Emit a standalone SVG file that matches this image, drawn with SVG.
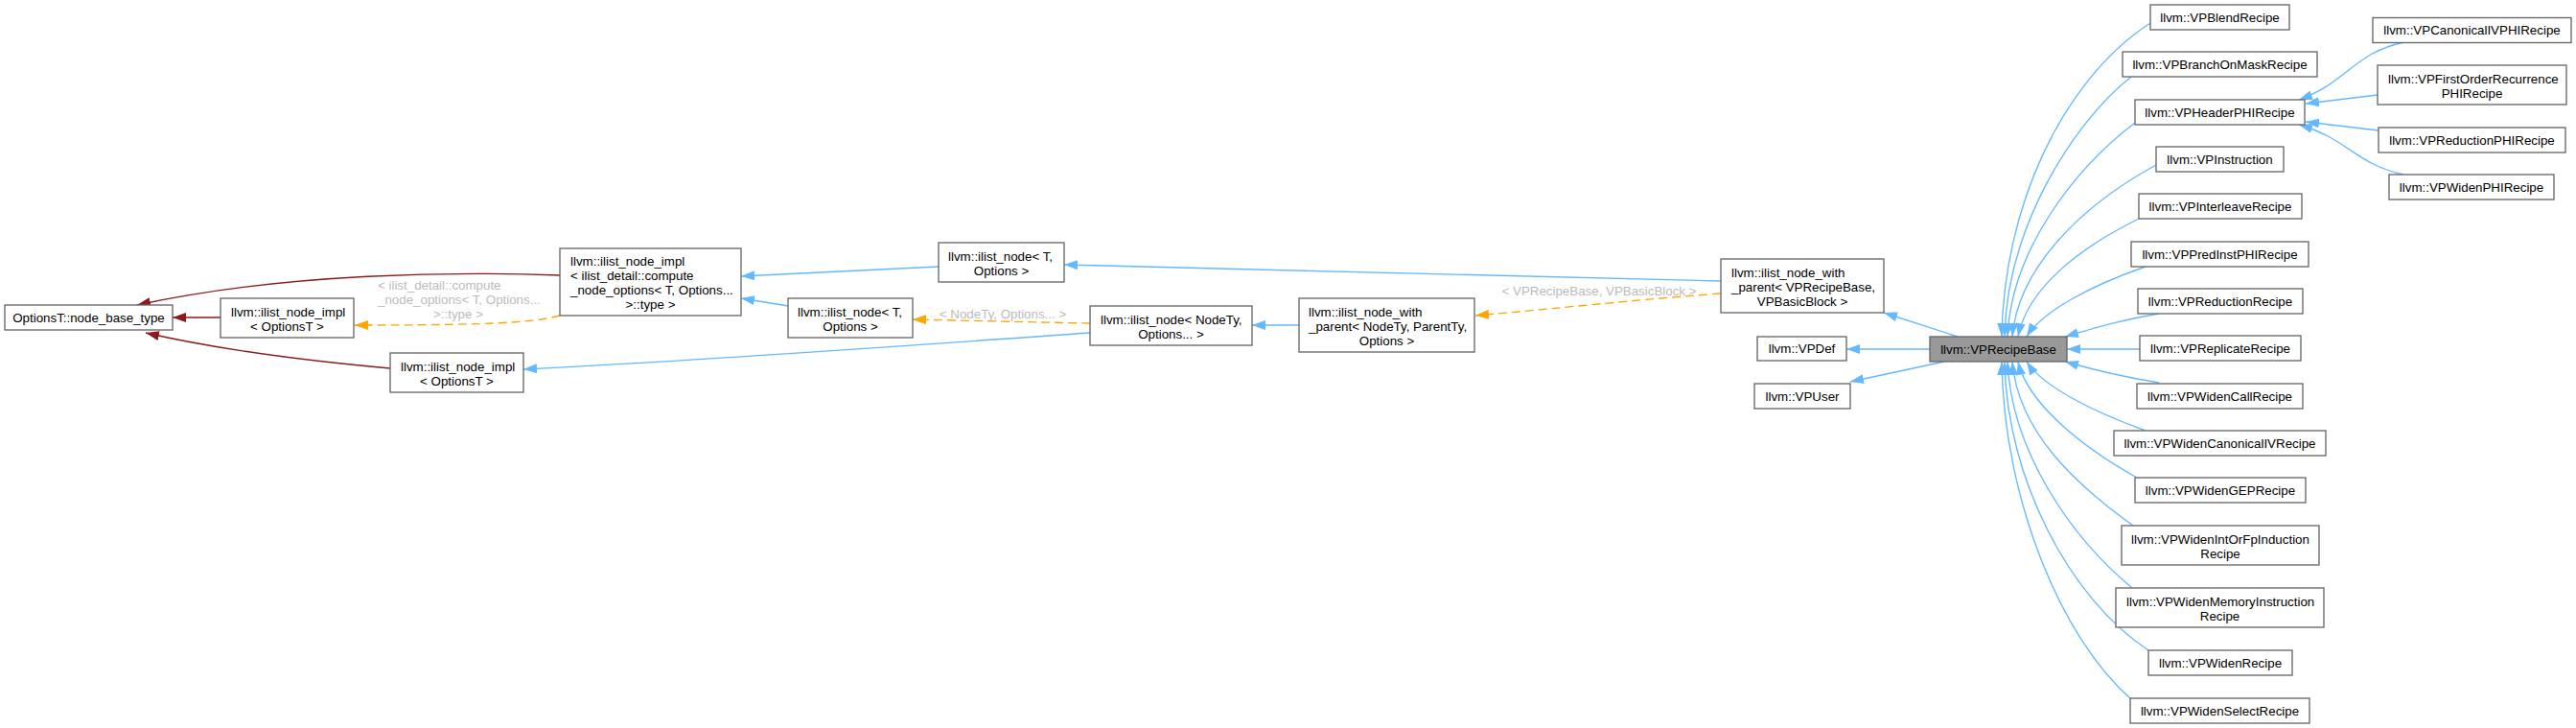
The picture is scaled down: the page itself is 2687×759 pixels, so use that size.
<svg xmlns="http://www.w3.org/2000/svg" width="2687" height="759" viewBox="0 0 2687 759">
<style>
text{font-family:"Liberation Sans",Arial,Helvetica,sans-serif;font-size:13.33px;fill:#000}
.m{text-anchor:middle}
.lbl{fill:#bbbbbb}
.n rect{fill:#fff;stroke:#666;stroke-width:1.33}
.n.cur rect{fill:#999}
.e path{fill:none;stroke-width:1.33}
.b{stroke:#63b8ff;marker-end:url(#ab)}
.r{stroke:#8b1a1a;marker-end:url(#ar)}
.o{stroke:#ffa500;stroke-dasharray:9,5;marker-end:url(#ao)}
</style>
<defs>
<marker id="ab" viewBox="0 0 14 10" refX="14" refY="5" markerWidth="14" markerHeight="10" orient="auto" markerUnits="userSpaceOnUse"><path d="M14,5L0,0L0,10z" fill="#63b8ff"/></marker>
<marker id="ar" viewBox="0 0 14 10" refX="14" refY="5" markerWidth="14" markerHeight="10" orient="auto" markerUnits="userSpaceOnUse"><path d="M14,5L0,0L0,10z" fill="#8b1a1a"/></marker>
<marker id="ao" viewBox="0 0 14 10" refX="14" refY="5" markerWidth="14" markerHeight="10" orient="auto" markerUnits="userSpaceOnUse"><path d="M14,5L0,0L0,10z" fill="#ffa500"/></marker>
</defs>
<rect width="2687" height="759" fill="#fff"/>
<g id="edges" class="e">
<path class="r" d="M230,331L180,331"/>
<path class="r" d="M584,287C480,283 300,284 143,318"/>
<path class="r" d="M407,384C330,377 230,365 152,347"/>
<path class="o" d="M584,329C555,337 500,339 370,339"/>
<path class="b" d="M979,278L773,288"/>
<path class="b" d="M822,319L773,311"/>
<path class="b" d="M1137,347C950,360 750,375 546,385"/>
<path class="o" d="M1137,337C1080,336 1000,334 952,333"/>
<path class="b" d="M1355,339L1306,339"/>
<path class="b" d="M1795,293C1500,284 1300,279 1110,276"/>
<path class="o" d="M1795,306C1700,313 1620,322 1539,329"/>
<path class="b" d="M2042,351L1965,326"/>
<path class="b" d="M2013,364L1926,364"/>
<path class="b" d="M2028,377L1930,398"/>
<path class="b" d="M2243,24C2148,86 2090,220 2088,351"/>
<path class="b" d="M2223,80C2160,130 2093,240 2091,351"/>
<path class="b" d="M2227,128C2165,175 2098,260 2094,351"/>
<path class="b" d="M2249,172C2170,215 2105,280 2099,351"/>
<path class="b" d="M2231,228C2170,258 2115,300 2105,351"/>
<path class="b" d="M2238,278C2180,298 2130,325 2114,351"/>
<path class="b" d="M2252,327C2215,333 2185,342 2154,351"/>
<path class="b" d="M2232,364L2156,364"/>
<path class="b" d="M2252,399C2215,393 2185,386 2154,377"/>
<path class="b" d="M2238,449C2180,428 2130,402 2114,377"/>
<path class="b" d="M2229,498C2170,465 2115,420 2105,377"/>
<path class="b" d="M2225,548C2165,505 2105,450 2099,377"/>
<path class="b" d="M2224,613C2160,560 2098,470 2094,377"/>
<path class="b" d="M2241,678C2160,625 2093,500 2091,377"/>
<path class="b" d="M2222,728C2150,665 2090,520 2088,377"/>
<path class="b" d="M2508,44C2455,55 2450,85 2398,104"/>
<path class="b" d="M2480,99L2405,108"/>
<path class="b" d="M2481,136L2405,127"/>
<path class="b" d="M2507,182C2455,170 2450,145 2398,130"/>
<text class="lbl" x="394" y="301.7">&lt; ilist_detail::compute</text>
<text class="lbl" x="394" y="316.7">_node_options&lt; T, Options...</text>
<text class="lbl m" x="478" y="331.7">&gt;::type &gt;</text>
<text class="lbl m" x="1046" y="331.7">&lt; NodeTy, Options... &gt;</text>
<text class="lbl m" x="1668" y="307.7">&lt; VPRecipeBase, VPBasicBlock &gt;</text>
</g>
<g id="n_optbase" class="n"><rect x="5" y="318" width="175" height="26"/><text class="m" x="92.5" y="335.7">OptionsT::node_base_type</text></g>
<g id="n_implA" class="n"><rect x="230" y="311" width="139" height="41"/><text x="241" y="329.7">llvm::ilist_node_impl</text><text class="m" x="299.5" y="344.7">&lt; OptionsT &gt;</text></g>
<g id="n_implB" class="n"><rect x="407" y="368" width="139" height="41"/><text x="418" y="386.7">llvm::ilist_node_impl</text><text class="m" x="476.5" y="401.7">&lt; OptionsT &gt;</text></g>
<g id="n_implC" class="n"><rect x="584" y="259" width="189" height="70"/><text x="595" y="277.2">llvm::ilist_node_impl</text><text x="595" y="292.2">&lt; ilist_detail::compute</text><text x="595" y="307.2">_node_options&lt; T, Options...</text><text class="m" x="678.5" y="322.2">&gt;::type &gt;</text></g>
<g id="n_nodeTU" class="n"><rect x="979" y="253" width="131" height="41"/><text x="989" y="271.7">llvm::ilist_node&lt; T,</text><text class="m" x="1044.5" y="286.7">Options &gt;</text></g>
<g id="n_nodeTL" class="n"><rect x="822" y="311" width="130" height="41"/><text x="832" y="329.7">llvm::ilist_node&lt; T,</text><text class="m" x="887" y="344.7">Options &gt;</text></g>
<g id="n_nodeNT" class="n"><rect x="1137" y="319" width="169" height="41"/><text x="1148" y="337.7">llvm::ilist_node&lt; NodeTy,</text><text class="m" x="1221.5" y="352.7">Options... &gt;</text></g>
<g id="n_wpNT" class="n"><rect x="1355" y="311" width="183" height="56"/><text x="1365" y="329.7">llvm::ilist_node_with</text><text x="1365" y="344.7">_parent&lt; NodeTy, ParentTy,</text><text class="m" x="1446.5" y="359.7">Options &gt;</text></g>
<g id="n_wpVP" class="n"><rect x="1795" y="270" width="170" height="56"/><text x="1806" y="288.7">llvm::ilist_node_with</text><text x="1806" y="303.7">_parent&lt; VPRecipeBase,</text><text class="m" x="1880" y="318.7">VPBasicBlock &gt;</text></g>
<g id="n_vpdef" class="n"><rect x="1833" y="351" width="93" height="25"/><text class="m" x="1879.5" y="368.2">llvm::VPDef</text></g>
<g id="n_vpuser" class="n"><rect x="1830" y="400" width="100" height="26"/><text class="m" x="1880" y="417.7">llvm::VPUser</text></g>
<g id="n_base" class="n cur"><rect x="2013" y="351" width="143" height="26"/><text class="m" x="2084.5" y="368.7">llvm::VPRecipeBase</text></g>
<g id="n_blend" class="n"><rect x="2243" y="5" width="145" height="26"/><text class="m" x="2315.5" y="22.7">llvm::VPBlendRecipe</text></g>
<g id="n_branch" class="n"><rect x="2214" y="54" width="203" height="26"/><text class="m" x="2315.5" y="71.7">llvm::VPBranchOnMaskRecipe</text></g>
<g id="n_header" class="n"><rect x="2227" y="104" width="177" height="26"/><text class="m" x="2315.5" y="121.7">llvm::VPHeaderPHIRecipe</text></g>
<g id="n_instr" class="n"><rect x="2249" y="153" width="133" height="26"/><text class="m" x="2315.5" y="170.7">llvm::VPInstruction</text></g>
<g id="n_inter" class="n"><rect x="2231" y="202" width="170" height="26"/><text class="m" x="2316" y="219.7">llvm::VPInterleaveRecipe</text></g>
<g id="n_pred" class="n"><rect x="2223" y="252" width="185" height="26"/><text class="m" x="2315.5" y="269.7">llvm::VPPredInstPHIRecipe</text></g>
<g id="n_red" class="n"><rect x="2230" y="301" width="172" height="26"/><text class="m" x="2316" y="318.7">llvm::VPReductionRecipe</text></g>
<g id="n_repl" class="n"><rect x="2232" y="350" width="168" height="26"/><text class="m" x="2316" y="367.7">llvm::VPReplicateRecipe</text></g>
<g id="n_wcall" class="n"><rect x="2229" y="400" width="173" height="26"/><text class="m" x="2315.5" y="417.7">llvm::VPWidenCallRecipe</text></g>
<g id="n_wciv" class="n"><rect x="2205" y="449" width="221" height="26"/><text class="m" x="2315.5" y="466.7">llvm::VPWidenCanonicalIVRecipe</text></g>
<g id="n_wgep" class="n"><rect x="2227" y="498" width="178" height="26"/><text class="m" x="2316" y="515.7">llvm::VPWidenGEPRecipe</text></g>
<g id="n_wint" class="n"><rect x="2213" y="548" width="206" height="41"/><text x="2223" y="566.7">llvm::VPWidenIntOrFpInduction</text><text class="m" x="2316" y="581.7">Recipe</text></g>
<g id="n_wmem" class="n"><rect x="2207" y="613" width="217" height="41"/><text x="2218" y="631.7">llvm::VPWidenMemoryInstruction</text><text class="m" x="2315.5" y="646.7">Recipe</text></g>
<g id="n_widen" class="n"><rect x="2241" y="678" width="150" height="26"/><text class="m" x="2316" y="695.7">llvm::VPWidenRecipe</text></g>
<g id="n_wsel" class="n"><rect x="2222" y="728" width="187" height="26"/><text class="m" x="2315.5" y="745.7">llvm::VPWidenSelectRecipe</text></g>
<g id="n_civphi" class="n"><rect x="2475" y="18.5" width="207" height="26"/><text class="m" x="2578.5" y="36.2">llvm::VPCanonicalIVPHIRecipe</text></g>
<g id="n_forphi" class="n"><rect x="2480" y="68" width="197" height="41"/><text x="2491" y="86.7">llvm::VPFirstOrderRecurrence</text><text class="m" x="2578.5" y="101.7">PHIRecipe</text></g>
<g id="n_redphi" class="n"><rect x="2481" y="133" width="195" height="26"/><text class="m" x="2578.5" y="150.7">llvm::VPReductionPHIRecipe</text></g>
<g id="n_wphi" class="n"><rect x="2492" y="182" width="172" height="26"/><text class="m" x="2578" y="199.7">llvm::VPWidenPHIRecipe</text></g>
</svg>
